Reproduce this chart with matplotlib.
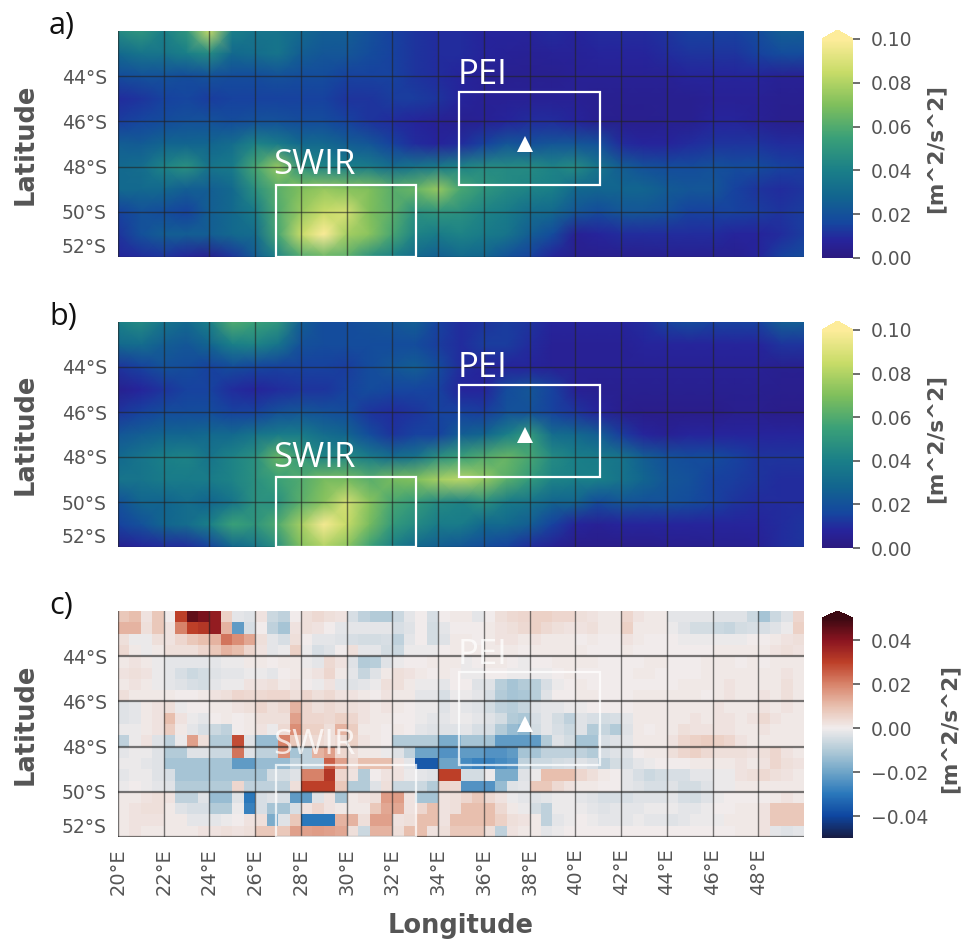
import matplotlib
matplotlib.use('Agg')
import matplotlib.pyplot as plt
import numpy as np
from matplotlib.colors import LinearSegmentedColormap
from matplotlib.patches import Rectangle

# axis values
lon_nodes = np.arange(20, 51)
lat_nodes = -np.arange(42, 53)
lon_edges = np.arange(20, 50.5, 0.5)
lat_edges = -np.arange(42, 52.5, 0.5)
lon_ticks = list(range(20, 50, 2))
lat_ticks = [44, 46, 48, 50, 52]

# panel a, 0.001 m^2/s^2, rows from 42S to 52S
ke_a = [
    [45,50,40,50,85,40,35,35,30,25,25,20,15,12,10,10,8,8,8,10,8,10,10,10,12,15,15,15,18,25,25],
    [30,35,35,40,45,30,32,35,25,22,22,18,15,12,10,10,8,7,6,7,7,8,8,8,10,12,12,12,15,18,18],
    [18,20,20,18,20,18,18,20,18,18,15,15,15,12,10,8,6,5,5,5,6,6,6,6,6,8,8,8,8,6,6],
    [10,12,15,16,14,15,15,15,15,15,12,12,14,14,12,8,6,6,6,6,6,5,5,5,5,5,6,6,6,5,5],
    [14,16,18,20,20,18,20,20,18,18,15,12,10,8,6,5,6,8,10,10,8,5,4,4,5,5,8,8,6,4,4],
    [25,24,28,28,28,32,42,38,30,30,25,22,15,10,8,10,15,22,20,22,22,20,10,8,8,10,12,12,12,10,10],
    [30,32,42,48,35,38,58,75,48,42,40,38,32,35,38,42,45,45,45,42,45,35,25,20,18,18,20,18,18,15,14],
    [30,30,30,25,25,30,48,62,70,75,72,70,62,65,75,58,50,45,42,40,30,28,28,28,24,22,22,15,12,10,12],
    [15,20,18,15,25,30,38,60,75,85,88,70,62,48,50,48,42,38,32,30,22,18,22,22,20,15,15,15,14,12,14],
    [12,20,25,25,25,30,32,58,85,100,78,72,58,42,38,42,38,35,25,18,6,8,10,10,10,10,10,8,8,10,14],
    [8,10,12,8,5,12,24,42,60,65,62,48,40,30,25,30,28,20,15,8,4,4,4,4,5,5,5,5,8,15,18],
]

# panel b
ke_b = [
    [40,45,35,30,40,60,55,50,25,18,18,20,22,25,15,10,12,14,12,8,8,8,8,10,15,18,15,15,15,25,25],
    [30,32,25,22,28,40,42,35,20,18,18,18,18,18,14,10,14,14,10,6,6,6,6,8,8,8,8,8,8,12,12],
    [12,15,20,18,15,18,16,15,15,15,14,18,22,25,18,10,8,8,8,6,6,6,6,6,6,6,6,6,6,5,5],
    [5,8,12,15,15,10,8,10,12,12,15,18,16,16,15,8,8,18,22,15,6,5,5,5,5,5,5,5,5,4,4],
    [12,15,18,18,18,15,15,20,22,20,18,12,10,12,15,15,14,20,20,15,12,8,4,3,3,3,3,4,4,3,3],
    [22,25,28,28,30,30,35,38,38,32,28,18,12,15,15,25,28,40,52,32,30,25,14,8,6,8,8,8,8,8,8],
    [30,35,40,42,35,42,48,65,52,42,45,38,32,35,48,55,60,65,58,45,40,38,35,25,20,18,18,15,12,12,12],
    [35,35,38,38,38,42,48,55,60,68,68,62,68,70,78,82,75,62,52,42,40,40,35,28,22,20,15,14,12,10,10],
    [20,28,28,32,28,35,48,48,62,72,88,72,58,52,45,42,48,38,35,28,28,18,22,20,20,18,15,12,10,10,10],
    [15,20,28,32,40,55,50,60,78,98,85,68,52,45,38,38,30,30,25,15,8,6,8,8,8,8,8,8,8,10,12],
    [5,8,10,10,15,28,35,48,70,80,72,55,40,30,25,22,18,15,10,6,3,3,3,3,4,4,5,5,6,10,12],
]

# panel c, difference, half degree cells
ke_diff = [
    [8,10,2,8,0,30,45,42,38,6,-2,-3,2,-6,-8,0,3,4,3,2,-4,-8,-10,-10,-6,-2,0,-4,0,1,1,-2,0,3,4,5,6,6,5,5,3,2,1,1,5,2,1,1,-2,-2,-2,-2,-3,-3,-3,-6,-12,-6,-3,5],
    [12,12,3,8,2,20,30,32,38,12,-22,-4,0,-8,-12,2,3,2,0,-2,-2,-2,-2,-2,-4,-3,0,-5,-2,0,0,0,1,2,3,4,6,4,3,2,2,3,1,1,6,1,1,1,-1,-3,-5,-5,-6,-7,-5,-4,-4,-3,-1,6],
    [3,-1,-1,3,2,5,8,10,12,22,18,14,3,-2,-4,3,0,-2,-2,-3,-4,-5,-5,-4,-8,-2,0,-5,-3,1,1,0,1,2,2,1,2,1,1,1,0,1,0,0,2,1,0,0,0,-1,-1,-1,-1,-1,-1,0,0,1,2,3],
    [4,1,-1,1,3,3,3,5,8,12,10,5,2,-2,-1,6,-1,-4,-3,0,3,-2,-2,-5,-6,-1,-1,-1,0,1,1,1,1,1,1,0,1,1,1,1,1,0,0,0,1,0,0,0,0,0,0,0,1,1,1,1,1,2,3,2],
    [1,2,1,-1,-2,-2,-2,-2,-2,-1,-1,1,1,0,1,1,-1,-2,4,2,-3,-10,-9,-3,-1,0,0,1,1,1,-1,0,1,1,0,-1,0,0,1,1,1,1,0,0,0,0,1,1,0,0,0,1,1,1,0,1,0,1,1,1],
    [2,3,2,-1,-2,-4,-6,-5,-3,-2,-2,-1,-1,-2,0,1,1,2,5,1,-2,-7,-3,1,3,2,1,0,1,0,-1,-1,0,0,-1,-1,-1,-1,0,1,0,0,0,0,0,1,1,0,0,0,0,1,1,1,1,1,1,1,2,1],
    [1,2,1,-1,-2,-3,-4,-5,-2,-1,-1,2,2,3,1,2,0,-1,2,-2,-3,-2,-1,3,3,1,-1,-1,-2,0,0,-3,-3,-9,-12,-10,-9,-4,-1,0,1,0,0,0,0,0,0,0,0,1,1,1,1,2,1,1,1,1,3,1],
    [3,1,1,1,1,0,0,1,2,3,5,4,4,5,5,3,5,3,4,2,2,1,0,2,1,1,-2,-2,-4,-1,-1,-2,-4,-10,-12,-11,-9,-3,0,0,1,1,0,0,0,1,1,1,1,1,1,0,1,2,1,1,2,1,3,1],
    [-3,-2,1,2,3,-1,0,0,1,1,2,3,5,3,4,12,5,3,4,3,3,2,1,2,1,0,-1,-1,-3,-1,-2,-3,-5,-8,-9,-7,-3,-2,-2,-1,-1,0,0,0,0,1,1,1,1,1,1,1,2,1,1,1,2,1,2,1],
    [-3,-2,1,2,10,2,-1,-2,0,1,0,1,3,3,3,15,5,5,4,6,5,2,1,1,0,0,-1,-2,-2,-1,-1,-2,-3,-5,-10,-11,-4,-2,-5,-8,-3,-4,-5,-4,-2,1,1,1,1,1,2,1,2,2,1,2,4,2,1,1],
    [-1,-1,1,2,7,1,-2,-4,-6,-8,0,1,2,-1,4,18,6,6,3,12,7,1,1,0,1,0,-2,-3,-3,-3,-2,-4,-4,-10,-14,-16,-5,-2,-4,-6,-3,-10,-7,-10,-3,1,0,1,1,3,2,2,2,2,1,1,2,1,1,1],
    [-8,-1,2,-3,-8,-1,15,3,-10,-10,28,-3,-14,-14,20,8,3,4,3,4,6,2,1,0,-10,-10,-10,-10,-18,-18,-12,-12,-12,-22,-22,-22,-22,-10,-3,-5,-12,-12,-4,-3,-2,1,1,1,2,5,6,7,6,5,2,1,1,1,1,1],
    [-2,-1,-1,-3,-10,-10,-3,-3,-6,-6,22,-3,-8,-8,18,-12,-8,12,15,5,3,1,1,-1,-3,-8,-20,-20,-24,-24,-22,-22,-24,-24,-22,-12,-12,-8,-8,-8,-8,-10,-4,-3,-3,0,1,1,3,5,6,4,3,3,3,2,3,5,2,1],
    [-1,-1,-2,-3,-12,-12,-12,-12,-12,-12,-22,-22,-14,-14,-14,-8,-8,-8,25,15,4,10,10,10,2,-2,-36,-36,-20,-20,-26,-28,-28,-26,-24,-8,-6,-6,-5,-4,-3,-4,-8,-5,-4,-2,-1,0,0,0,1,1,1,1,2,1,2,5,3,2],
    [-2,-1,-1,-3,-4,-12,-12,-12,-12,-12,-12,-12,-12,-5,-5,-3,20,20,32,5,2,-10,0,2,2,-1,-2,-3,30,30,-5,-5,-1,-18,-18,-3,-1,10,10,10,5,3,1,0,-2,-4,-6,-5,-4,-4,-2,-2,-1,-1,2,3,4,3,2,1],
    [-1,0,-1,-2,-3,-10,-10,-10,-10,-10,5,-8,-8,-8,-8,3,30,30,30,8,-10,-10,-3,3,-6,-6,-6,-10,5,4,-24,-24,-24,-14,-3,-2,8,8,4,2,1,1,0,0,-2,-3,-4,-4,-3,-5,-5,-3,-1,-1,1,1,1,1,1,1],
    [1,1,2,3,2,-8,-8,-3,-14,-14,-3,-30,-4,-3,-4,-22,-22,-3,2,-12,1,2,3,16,16,2,-12,-12,2,3,5,8,4,2,-1,-2,-3,-2,-1,-1,-2,-3,-4,-4,-4,-3,-3,-3,-2,-4,-5,-3,-1,0,0,0,0,1,2,1],
    [1,2,3,3,1,-3,-4,-4,-10,-10,-1,-28,-4,-12,-12,-4,2,5,2,1,1,1,8,14,14,2,5,10,2,3,10,10,10,4,1,-1,-5,-8,-1,-1,-1,-2,-3,-2,-2,-2,-1,-1,-1,-2,-2,-1,0,0,1,1,2,8,8,8],
    [1,2,2,2,1,1,-2,-2,-2,-1,0,2,3,-18,-3,8,-30,-30,-30,12,12,3,15,15,2,3,10,10,2,10,10,10,10,6,3,2,1,-8,-2,-1,0,-1,-2,-2,-2,-1,-2,-2,-3,-2,-1,-1,-1,1,1,1,2,8,8,8],
    [1,2,1,1,1,1,1,2,2,3,2,3,8,8,8,15,15,16,15,14,3,-6,12,12,3,10,10,2,3,8,8,8,3,-8,2,1,1,-2,-1,0,0,0,0,0,0,0,0,0,0,0,0,0,0,0,1,1,2,-2,-3,-2],
]

panel_labels = ['a)', 'b)', 'c)']
cbar_ticks_ke = [0.00, 0.02, 0.04, 0.06, 0.08, 0.10]
cbar_ticks_diff = [-0.04, -0.02, 0.00, 0.02, 0.04]

W, H = 961, 942
grey = '#555555'

haline = LinearSegmentedColormap.from_list('haline', [
    (0, '#2c1a80'), (0.08, '#26249c'), (0.16, '#15479f'), (0.28, '#12658f'),
    (0.4, '#1a7f88'), (0.55, '#3aa078'), (0.7, '#7fbf5c'), (0.85, '#c8dc68'), (1, '#fdec9a')])
balance = LinearSegmentedColormap.from_list('balance', [
    '#181c43', '#0e46a0', '#2a78bb', '#6fa5c8', '#b3cbd8', '#f1ecec',
    '#e8bfae', '#d8836a', '#bd3f28', '#8a1420', '#3c0912'])


def box(x0, y0, x1, y1):
    return [x0 / W, 1 - y1 / H, (x1 - x0) / W, (y1 - y0) / H]


def draw_panel(top, bottom, label, box_lat, alpha, lat_lw):
    ax = fig.add_axes(box(118, top, 804, bottom))
    ax.set_xlim(20, 50)
    ax.set_ylim(-52, -42)
    for s in ax.spines.values():
        s.set_visible(False)
    ax.grid(axis='x', color='#222222', alpha=0.6, lw=1.0)
    ax.grid(axis='y', color='#222222', alpha=0.6, lw=lat_lw)
    ax.set_axisbelow(False)
    ax.set_xticks(lon_ticks)
    ax.set_yticks([-v for v in lat_ticks])
    ax.set_yticklabels(['%d°S' % v for v in lat_ticks], color=grey, fontsize=13.5)
    ax.get_yticklabels()[-1].set_va('bottom')
    ax.tick_params(length=0, pad=8)
    ax.set_xticklabels([])
    ax.set_ylabel('Latitude', fontsize=18.5, fontweight='bold', color=grey)
    ax.yaxis.set_label_coords(-0.115, 0.5)
    fig.text(49 / W, 1 - (top - 5) / H, label, fontsize=22, family='Open Sans', va='center', color='#111111')

    for x0, x1, y0, y1 in [(34.9, 41.1, box_lat[0], box_lat[1]), (26.9, 33.05, box_lat[1], 52)]:
        ax.add_patch(Rectangle((x0, -y1), x1 - x0, y1 - y0, fill=False, ec='white',
                               lw=1.6, alpha=alpha, zorder=5, clip_on=True))
    ax.text(34.85, -box_lat[0] + 0.0, 'PEI', color='white', fontsize=25, family='Open Sans',
            va='bottom', alpha=alpha, zorder=6)
    ax.text(26.8, -box_lat[1] + 0.1, 'SWIR', color='white', fontsize=25, family='Open Sans',
            va='bottom', alpha=alpha, zorder=6)
    ax.plot(37.8, -47, marker='^', color='white', ms=11, mew=0, zorder=6)
    return ax


def draw_cbar(mesh, top, bottom, ticks, frac, pad):
    cax = fig.add_axes(box(822, top, 853, bottom))
    cb = fig.colorbar(mesh, cax=cax, extend='max', extendfrac=frac, ticks=ticks)
    cb.outline.set_visible(False)
    cb.ax.tick_params(length=5, width=1.2, color=grey, labelcolor=grey, labelsize=13.5, pad=8)
    cb.set_label('[m^2/s^2]', fontsize=15.5, fontweight='bold', color=grey, labelpad=pad)
    return cb


fig = plt.figure(figsize=(W / 100, H / 100), dpi=100)

ax_a = draw_panel(31, 257, panel_labels[0], (44.7, 48.8), 1, 1.0)
m_a = ax_a.pcolormesh(lon_nodes, lat_nodes, np.array(ke_a) / 1000, cmap=haline, vmin=0, vmax=0.1,
                      shading='gouraud', rasterized=True, zorder=1)
draw_cbar(m_a, 30, 258, cbar_ticks_ke, 0.041, 9)

ax_b = draw_panel(322, 547, panel_labels[1], (44.8, 48.9), 1, 1.0)
m_b = ax_b.pcolormesh(lon_nodes, lat_nodes, np.array(ke_b) / 1000, cmap=haline, vmin=0, vmax=0.1,
                      shading='gouraud', rasterized=True, zorder=1)
draw_cbar(m_b, 321, 548, cbar_ticks_ke, 0.041, 9)

ax_c = draw_panel(611, 837, panel_labels[2], (44.7, 48.8), 0.75, 1.6)
m_c = ax_c.pcolormesh(lon_edges, lat_edges, np.array(ke_diff) / 1000, cmap=balance, vmin=-0.05, vmax=0.05,
                      shading='flat', zorder=1)
draw_cbar(m_c, 611, 838, cbar_ticks_diff, 0.032, 8)
ax_c.set_xticklabels(['%d°E' % v for v in lon_ticks], rotation=90, color=grey, fontsize=14)
ax_c.set_xlabel('Longitude', fontsize=18.5, fontweight='bold', color=grey)
ax_c.xaxis.set_label_coords(0.5, -0.395)
ax_c.xaxis.label.set_va('center')

fig.savefig('out.png', dpi=100)
